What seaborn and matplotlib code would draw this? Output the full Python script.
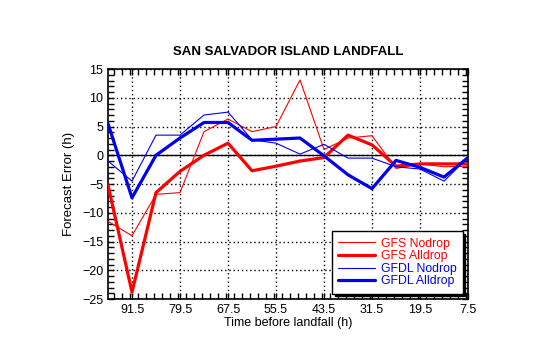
import numpy as np
import pandas as pd
import matplotlib
matplotlib.use("Agg")
import matplotlib.pyplot as plt
import seaborn as sns
from matplotlib.ticker import MultipleLocator

# hours before landfall (every 6 h)
hours = [97.5, 91.5, 85.5, 79.5, 73.5, 67.5, 61.5, 55.5,
         49.5, 43.5, 37.5, 31.5, 25.5, 19.5, 13.5, 7.5]

gfs_nodrop = [-11.5, -14.0, -6.8, -6.5, 4.1, 6.3, 4.1, 5.0,
              13.1, 1.0, 3.0, 3.4, -2.3, -1.5, -2.0, -1.9]
gfs_alldrop = [-5.2, -23.8, -6.5, -2.8, 0.0, 2.1, -2.7, -1.9,
               -1.0, -0.4, 3.5, 1.8, -1.9, -1.5, -1.5, -1.5]
gfdl_nodrop = [-1.0, -4.5, 3.5, 3.5, 7.0, 7.5, 2.7, 2.1,
               0.2, 1.9, -0.5, -0.5, -2.0, -2.4, -4.5, -0.4]
gfdl_alldrop = [5.5, -7.4, 0.0, 3.0, 5.7, 5.7, 2.6, 2.8,
                3.0, -0.1, -3.4, -5.8, -0.9, -2.1, -3.8, -0.4]

sns.set_style("ticks")
plt.rcParams["font.family"] = ["Liberation Sans", "DejaVu Sans"]
plt.rcParams["text.color"] = "black"
plt.rcParams["axes.labelcolor"] = "black"
plt.rcParams["xtick.color"] = "black"
plt.rcParams["ytick.color"] = "black"

fig = plt.figure(figsize=(5.4, 3.44), dpi=100)
ax = fig.add_axes([0.2, 0.1308, 0.6667, 0.6686])

# zero line
ax.axhline(0, color="black", linewidth=1.0, zorder=1)

series = [
    ("GFS Nodrop", gfs_nodrop, "#ff0000", 0.8),
    ("GFS Alldrop", gfs_alldrop, "#ff0000", 2.3),
    ("GFDL Nodrop", gfdl_nodrop, "#0000ee", 0.8),
    ("GFDL Alldrop", gfdl_alldrop, "#0000ee", 2.3),
]
for name, vals, col, lw in series:
    df = pd.DataFrame({"hours": hours, "err": vals})
    sns.lineplot(data=df, x="hours", y="err", ax=ax, color=col,
                 linewidth=lw, label=name, zorder=3)

ax.set_xlim(97.5, 7.5)
ax.set_ylim(-25, 15)
ax.set_xticks([91.5, 79.5, 67.5, 55.5, 43.5, 31.5, 19.5, 7.5])
ax.xaxis.set_minor_locator(MultipleLocator(2))
ax.set_yticks(np.arange(-25, 16, 5))
ax.yaxis.set_minor_locator(MultipleLocator(1))
ax.grid(True, which="major", color="black", linestyle=(0, (1, 2)), linewidth=1.0)

ax.tick_params(which="both", direction="in", top=True, right=True,
               color="black", labelcolor="black", labelsize=9)
ax.tick_params(which="major", length=4, width=1)
ax.tick_params(which="minor", length=4, width=1)
for s in ax.spines.values():
    s.set_color("black")
    s.set_linewidth(1.2)

ax.set_xlabel("Time before landfall (h)", fontsize=9, labelpad=1, color="black")
ax.set_ylabel("Forecast Error (h)", fontsize=9.5, labelpad=5, color="black")
ax.set_title("SAN SALVADOR ISLAND LANDFALL", fontsize=9.5,
             fontweight="bold", pad=10, color="black")

leg = ax.legend(loc="lower right", fontsize=8.8, frameon=True, fancybox=False,
                shadow={"color": "black", "alpha": 1.0}, framealpha=1,
                edgecolor="black", handlelength=3.0, labelspacing=0.05,
                borderpad=0.5, handletextpad=0.5, borderaxespad=0.45)
leg.get_frame().set_linewidth(1.0)
for txt, (_, _, col, _) in zip(leg.get_texts(), series):
    txt.set_color(col)

fig.savefig("out.png", dpi=100)
